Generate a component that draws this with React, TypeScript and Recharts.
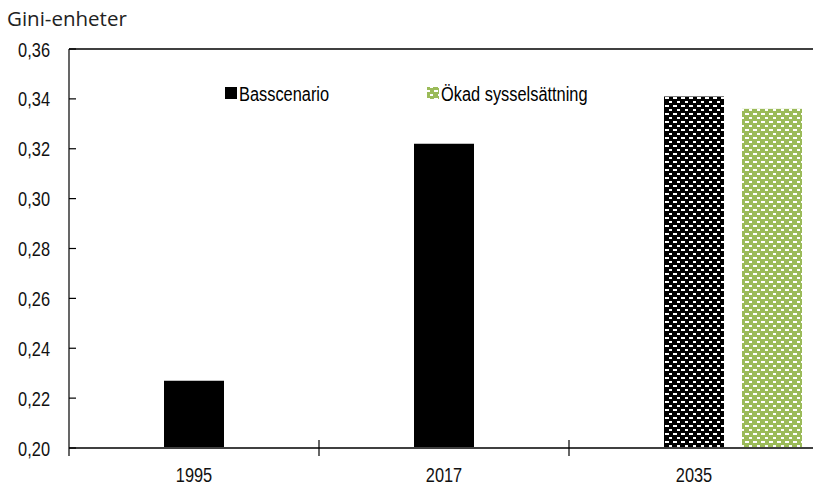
import { Bar, BarChart, Cell, Legend, ReferenceLine, XAxis, YAxis } from "recharts";

const years = ["1995", "2017", "2035"];
const basscenario = [0.227, 0.322, 0.341];
const okadSysselsattning = [null, null, 0.336];
const yTicks = [0.2, 0.22, 0.24, 0.26, 0.28, 0.3, 0.32, 0.34, 0.36];
const projectedYears = ["2035"];

const data = years.map((year, i) => ({
  year,
  bas: basscenario[i],
  okad: okadSysselsattning[i],
}));

const GREEN = "#9bbb59";
// no narrow font installed, so squeeze Liberation Sans like a condensed face
const FONT = '"Liberation Sans", Arial, sans-serif';
const FONT_SIZE = 21;
const NARROW = 0.78;
const Y_LABEL_GAP = 19;
const OKAD_SHIFT = 78;

function PatternDefs() {
  return (
    <defs>
      <pattern id="blackDash" width={8} height={8} patternUnits="userSpaceOnUse">
        <rect width={8} height={8} fill="#000" />
        <rect x={1} y={1} width={4} height={2} fill="#fff" />
        <rect x={5} y={5} width={4} height={2} fill="#fff" />
      </pattern>
      <pattern id="greenDash" width={8} height={8} patternUnits="userSpaceOnUse">
        <rect width={8} height={8} fill={GREEN} />
        <rect x={1} y={1} width={4} height={2} fill="#fff" />
        <rect x={5} y={5} width={4} height={2} fill="#fff" />
      </pattern>
    </defs>
  );
}

function NarrowText({ x, y, anchor, children }: any) {
  return (
    <text
      transform={`translate(${x},${y}) scale(${NARROW},1)`}
      textAnchor={anchor}
      fontFamily={FONT}
      fontSize={FONT_SIZE}
      fill="#111"
    >
      {children}
    </text>
  );
}

function YTick(props: any) {
  const { x, y, payload } = props;
  return (
    <g>
      <NarrowText x={x} y={y + 7.5} anchor="end">
        {Number(payload.value).toFixed(2).replace(".", ",")}
      </NarrowText>
      <line x1={x + Y_LABEL_GAP} x2={x + Y_LABEL_GAP + 7} y1={y} y2={y} stroke="#000" strokeWidth={1.2} />
    </g>
  );
}

function XTick(props: any) {
  const { x, y, payload } = props;
  const half = payload.offset ?? 125;
  return (
    <g>
      <NarrowText x={x} y={y + 34} anchor="middle">
        {payload.value}
      </NarrowText>
      <line x1={x - half} x2={x - half} y1={payload.index === 0 ? y : y - 8} y2={y + 8} stroke="#000" strokeWidth={1.2} />
    </g>
  );
}

function LegendContent() {
  const items = [
    { name: "Basscenario", fill: "#000", at: 0 },
    { name: "Ökad sysselsättning", fill: "url(#greenDash)", at: 202 },
  ];
  return (
    <svg width={380} height={24} style={{ display: "block", overflow: "visible" }}>
      {items.map((it) => (
        <g key={it.name}>
          <rect x={it.at} y={6} width={12} height={12} fill={it.fill} />
          <text
            transform={`translate(${it.at + 14},19.5) scale(${NARROW},1)`}
            fontFamily={FONT}
            fontSize={FONT_SIZE}
            fill="#000"
          >
            {it.name}
          </text>
        </g>
      ))}
    </svg>
  );
}

export default function App() {
  return (
    <div style={{ position: "relative", width: 813, height: 486, overflow: "hidden", background: "#fff" }}>
      <style>{`body{margin:0}`}</style>
      <div
        style={{
          position: "absolute",
          left: 7,
          top: 5,
          fontFamily: '"Open Sans", sans-serif',
          fontSize: 20.5,
          lineHeight: "27px",
          color: "#222",
        }}
      >
        Gini-enheter
      </div>
      <BarChart
        width={830}
        height={486}
        data={data}
        margin={{ top: 49, right: 11, bottom: 0, left: 0 }}
      >
        <PatternDefs />
        <XAxis
          dataKey="year"
          height={38}
          tickSize={0}
          tickMargin={0}
          tickLine={false}
          axisLine={{ stroke: "#404040", strokeWidth: 2 }}
          tick={<XTick />}
          interval={0}
        />
        <XAxis xAxisId="b" dataKey="year" hide />
        <YAxis
          width={69}
          domain={[0.2, 0.36]}
          ticks={yTicks}
          allowDataOverflow
          tickSize={0}
          tickMargin={Y_LABEL_GAP}
          tickLine={false}
          axisLine={{ stroke: "#000", strokeWidth: 1.2 }}
          tick={<YTick />}
          interval={0}
        />
        <ReferenceLine y={0.36} stroke="#000" strokeWidth={1.5} />
        <Legend
          layout="horizontal"
          verticalAlign="middle"
          align="center"
          content={<LegendContent />}
          wrapperStyle={{ top: 81, left: 225, width: "auto" }}
        />
        <Bar dataKey="bas" name="Basscenario" barSize={60} isAnimationActive={false}>
          {data.map((d) => (
            <Cell key={d.year} fill={projectedYears.includes(d.year) ? "url(#blackDash)" : "#000"} />
          ))}
        </Bar>
        <Bar
          dataKey="okad"
          name="Ökad sysselsättning"
          xAxisId="b"
          barSize={60}
          isAnimationActive={false}
          shape={(p: any) => (
            <rect x={p.x + OKAD_SHIFT} y={p.y} width={p.width} height={p.height} fill="url(#greenDash)" />
          )}
        />
      </BarChart>
    </div>
  );
}
